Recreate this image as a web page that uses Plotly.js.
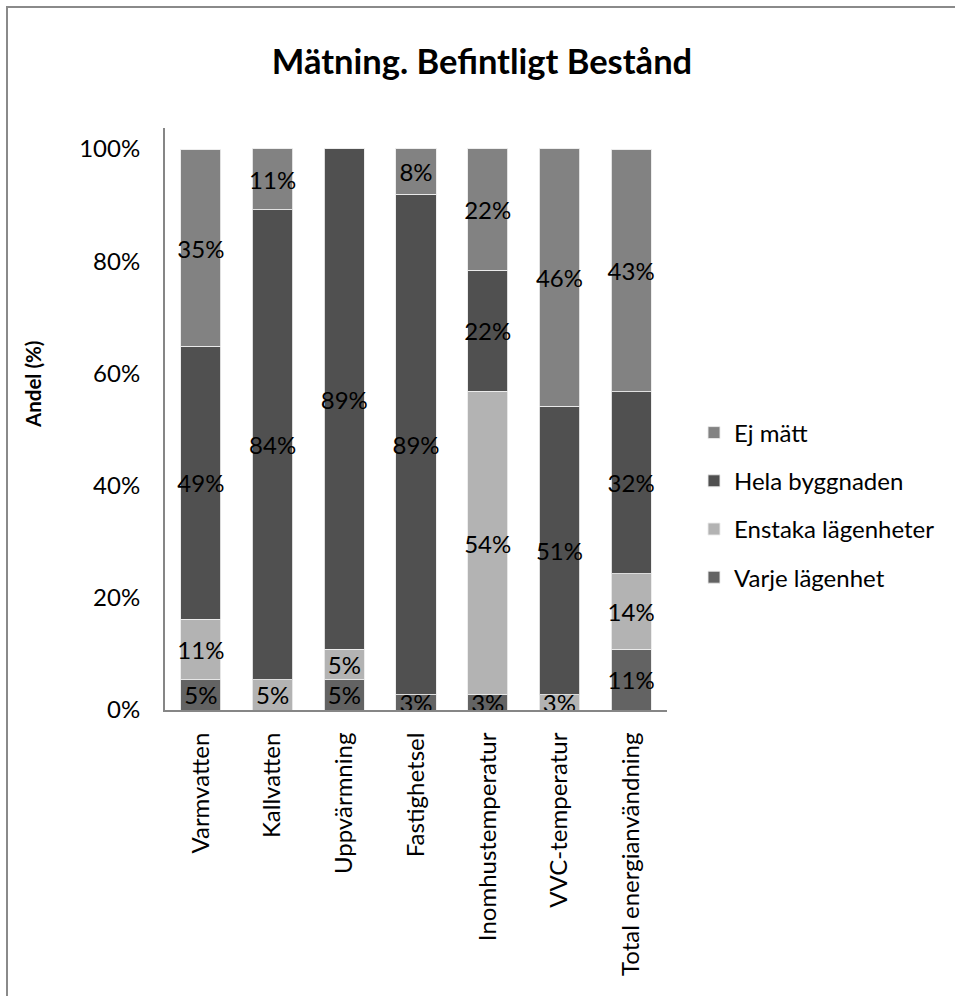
<!DOCTYPE html>
<html>
<head>
<meta charset="utf-8">
<script src="https://cdn.plot.ly/plotly-3.0.1.min.js"></script>
<style>
  html, body { margin: 0; padding: 0; background: #fff; }
  #chart { width: 955px; height: 996px; }
</style>
</head>
<body>
<div id="chart"></div>
<script>
// ---- Data (percent of buildings) ----
const categories = ["Varmvatten", "Kallvatten", "Uppvärmning", "Fastighetsel",
                    "Inomhustemperatur", "VVC-temperatur", "Total energianvändning"];
const varjeLagenhet    = [5.4, 0, 5.4, 2.7, 2.7, 0, 10.8];
const enstakaLagenheter = [10.8, 5.4, 5.4, 0, 54.1, 2.7, 13.5];
const helaByggnaden    = [48.6, 83.8, 89.2, 89.2, 21.6, 51.4, 32.4];
const ejMatt           = [35.1, 10.8, 0, 8.1, 21.6, 45.9, 43.2];
const seriesNames = ["Varje lägenhet", "Enstaka lägenheter", "Hela byggnaden", "Ej mätt"];
const yTickValues = [0, 20, 40, 60, 80, 100];
const yTickLabels = ["0%", "20%", "40%", "60%", "80%", "100%"];
const chartTitle = "Mätning. Befintligt Bestånd";
const yTitle = "Andel (%)";

// ---- Styling ----
const seriesColors = ["#636363", "#b3b3b3", "#505050", "#828282"];
const legendRanks = [4, 3, 2, 1];
const W = 955, H = 996;
const M = { l: 165, r: 288, t: 128, b: 286 };
const plotW = W - M.l - M.r, plotH = H - M.t - M.b;
const px2x = p => (p - M.l) / plotW;
const px2y = p => (H - M.b - p) / plotH;
const FONT = "Lato, 'Open Sans', sans-serif";

const seriesValues = [varjeLagenhet, enstakaLagenheter, helaByggnaden, ejMatt];
const traces = seriesValues.map((vals, i) => ({
  type: "bar",
  name: seriesNames[i],
  legendgroup: seriesNames[i],
  legendrank: legendRanks[i],
  x: categories,
  y: vals,
  text: vals.map(v => v > 0 ? Math.round(v) + "%" : ""),
  textposition: "inside",
  insidetextanchor: "middle",
  textangle: 0,
  constraintext: "none",
  cliponaxis: false,
  textfont: { family: FONT, size: 24, color: "#000" },
  marker: { color: seriesColors[i], line: { color: "rgba(235,235,235,0.9)", width: 1 } },
  hoverinfo: "x+y+name"
}));

const layout = {
  width: W, height: H,
  margin: M,
  paper_bgcolor: "#fff",
  plot_bgcolor: "#fff",
  barmode: "stack",
  bargap: 0.44,
  font: { family: FONT, color: "#000" },
  title: {
    text: "<b>" + chartTitle + "</b>",
    font: { family: FONT, size: 34.5, color: "#000" },
    xref: "container", yref: "container",
    x: 482 / W, xanchor: "center",
    y: 1 - 62 / H, yanchor: "middle"
  },
  xaxis: {
    type: "category",
    showline: true, linecolor: "#868686", linewidth: 2,
    showgrid: false, zeroline: false,
    ticks: "",
    tickangle: -90,
    ticklabelstandoff: 11,
    tickfont: { family: FONT, size: 24, color: "#000" }
  },
  yaxis: {
    range: [0, 103.74],
    showline: true, linecolor: "#868686", linewidth: 2,
    showgrid: false, zeroline: false,
    ticks: "",
    tickmode: "array", tickvals: yTickValues, ticktext: yTickLabels,
    ticklabelstandoff: 18,
    tickfont: { family: FONT, size: 24, color: "#000" }
  },
  legend: {
    x: px2x(694), xanchor: "left",
    y: px2y(505), yanchor: "middle",
    traceorder: "grouped",
    tracegroupgap: 14,
    font: { family: FONT, size: 24, color: "#000" },
    bgcolor: "rgba(0,0,0,0)"
  },
  annotations: [{
    text: "<b>" + yTitle + "</b>",
    xref: "paper", yref: "paper",
    x: px2x(33), y: px2y(384),
    xanchor: "center", yanchor: "middle",
    textangle: -90, showarrow: false,
    font: { family: FONT, size: 20.5, color: "#000" }
  }],
  shapes: [{
    type: "rect", xref: "paper", yref: "paper",
    x0: px2x(7), x1: px2x(W + 20),
    y0: px2y(H + 20), y1: px2y(7),
    line: { color: "#8a8a8a", width: 2 },
    fillcolor: "rgba(0,0,0,0)",
    layer: "below"
  }]
};

Plotly.newPlot("chart", traces, layout, { displayModeBar: false, staticPlot: true });
</script>
</body>
</html>
